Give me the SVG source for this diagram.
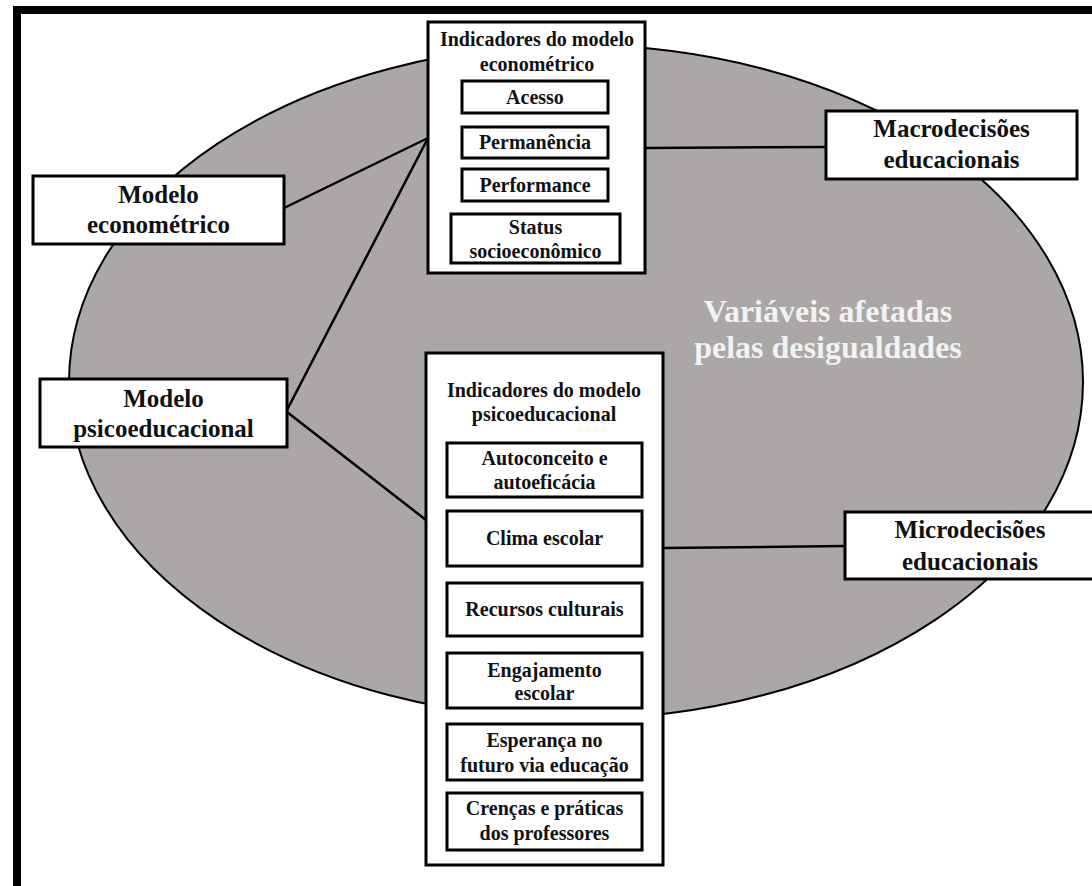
<svg xmlns="http://www.w3.org/2000/svg" width="1092" height="886" viewBox="0 0 1092 886">
<style>
.box{fill:#fff;stroke:#000;stroke-width:3}
.in{fill:#fff;stroke:#000;stroke-width:3}
.conn line{stroke:#000;stroke-width:2.5;stroke-linecap:round}
text{font-family:"Liberation Serif","Times New Roman",serif;font-weight:bold;fill:#111;text-anchor:middle}
.big{font-size:25px}
.ind{font-size:20px}
.item{font-size:20px}
.var{font-size:32px;fill:#f2f2f2}
</style>
<rect x="0" y="0" width="1092" height="886" fill="#fff"/>
<rect x="13" y="6" width="1079" height="8" fill="#000"/>
<rect x="13" y="6" width="8" height="880" fill="#000"/>
<ellipse id="ellipse" cx="576" cy="382" rx="507" ry="337" fill="#aaa7a6" stroke="#000" stroke-width="2"/>
<text class="var"><tspan x="828" y="322">Variáveis afetadas</tspan><tspan x="828" y="358">pelas desigualdades</tspan></text>
<g class="conn" id="connectors">
<line x1="284" y1="208" x2="428" y2="138"/>
<line x1="287" y1="410" x2="428" y2="138"/>
<line x1="287" y1="412" x2="426" y2="520"/>
<line x1="645" y1="148" x2="826" y2="147"/>
<line x1="663" y1="548" x2="845" y2="546"/>
</g>
<g id="econ-indicators">
<rect class="box" x="428" y="22" width="217" height="251"/>
<text class="ind"><tspan x="537" y="46">Indicadores do modelo</tspan><tspan x="537" y="71">econométrico</tspan></text>
<rect class="in" x="462" y="81" width="146" height="32"/>
<text class="item" x="535" y="104">Acesso</text>
<rect class="in" x="462" y="127" width="146" height="31"/>
<text class="item" x="535" y="149">Permanência</text>
<rect class="in" x="462" y="169" width="146" height="32"/>
<text class="item" x="535" y="192">Performance</text>
<rect class="in" x="451" y="214" width="169" height="49"/>
<text class="item"><tspan x="535.5" y="234">Status</tspan><tspan x="535.5" y="258">socioeconômico</tspan></text>
</g>
<g id="modelo-econometrico">
<rect class="box" x="33" y="176" width="251" height="68"/>
<text class="big"><tspan x="158.5" y="203">Modelo</tspan><tspan x="158.5" y="233">econométrico</tspan></text>
</g>
<g id="modelo-psicoeducacional">
<rect class="box" x="40" y="379" width="247" height="68"/>
<text class="big"><tspan x="163.5" y="407">Modelo</tspan><tspan x="163.5" y="437">psicoeducacional</tspan></text>
</g>
<g id="macrodecisoes">
<rect class="box" x="826" y="111" width="251" height="68"/>
<text class="big"><tspan x="951.5" y="137">Macrodecisões</tspan><tspan x="951.5" y="168">educacionais</tspan></text>
</g>
<g id="microdecisoes">
<rect class="box" x="845" y="512" width="251" height="67"/>
<text class="big"><tspan x="970" y="538">Microdecisões</tspan><tspan x="970" y="570">educacionais</tspan></text>
</g>
<g id="psico-indicators">
<rect class="box" x="426" y="353" width="237" height="512"/>
<text class="ind"><tspan x="544" y="397">Indicadores do modelo</tspan><tspan x="544" y="421">psicoeducacional</tspan></text>
<rect class="in" x="447" y="443" width="195" height="54"/>
<text class="item"><tspan x="544.5" y="465">Autoconceito e</tspan><tspan x="544.5" y="489">autoeficácia</tspan></text>
<rect class="in" x="447" y="511" width="195" height="55"/>
<text class="item" x="544.5" y="545">Clima escolar</text>
<rect class="in" x="447" y="583" width="195" height="53"/>
<text class="item" x="544.5" y="616">Recursos culturais</text>
<rect class="in" x="447" y="653" width="195" height="55"/>
<text class="item"><tspan x="544.5" y="677">Engajamento</tspan><tspan x="544.5" y="700">escolar</tspan></text>
<rect class="in" x="447" y="724" width="195" height="56"/>
<text class="item"><tspan x="544.5" y="747">Esperança no</tspan><tspan x="544.5" y="772">futuro via educação</tspan></text>
<rect class="in" x="447" y="793" width="195" height="57"/>
<text class="item"><tspan x="544.5" y="815">Crenças e práticas</tspan><tspan x="544.5" y="840">dos professores</tspan></text>
</g>
</svg>
